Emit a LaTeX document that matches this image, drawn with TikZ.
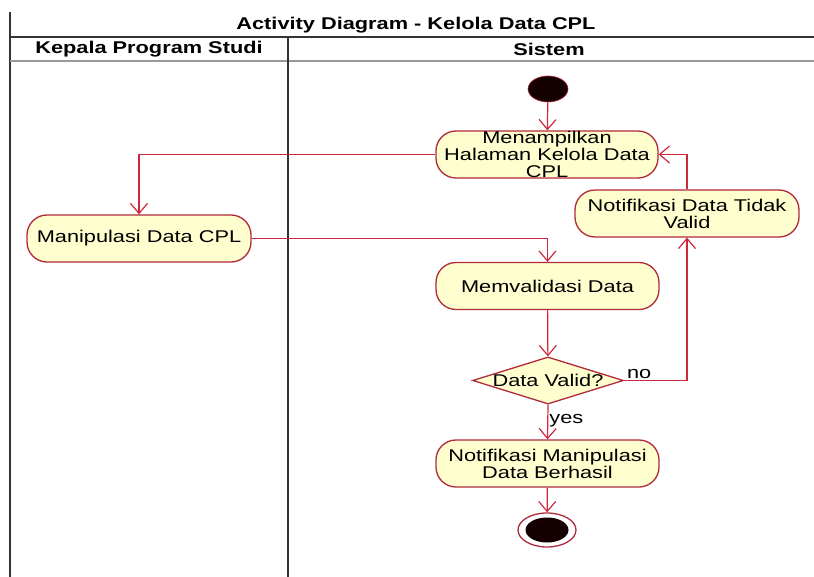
\documentclass[tikz,border=0pt]{standalone}
\usepackage{fontspec}
\setmainfont{Liberation Sans}[FakeStretch=1.28]
\usetikzlibrary{arrows.meta,shapes.geometric}
\definecolor{actfill}{HTML}{FEFECE}
\definecolor{actline}{HTML}{B02A3A}
\definecolor{flow}{RGB}{205,40,60}
\begin{document}
\begin{tikzpicture}[x=1pt,y=-1pt,
  font=\fontsize{17}{17}\selectfont,
  action/.style={draw=actline, fill=actfill, line width=1.3pt, rounded corners=20pt,
    align=center, inner sep=0pt, minimum height=47pt},
  decision/.style={draw=actline, fill=actfill, line width=1.3pt, diamond,
    shape aspect=3.2, inner sep=0pt, minimum width=150pt, minimum height=47pt},
  initial/.style={ellipse, fill=black!92!red, draw=actline, line width=0.6pt,
    minimum width=40pt, minimum height=26pt, inner sep=0pt},
  final/.style={ellipse, draw=actline, line width=1.3pt, fill=white,
    minimum width=58pt, minimum height=34pt, inner sep=0pt},
  flowline/.style={draw=flow, line width=1.2pt, -{Straight Barb[length=10pt,width=17pt]}},
  lane/.style={line width=2pt, black!80},
  heading/.style={font=\fontsize{17}{17}\selectfont\bfseries},
  guard/.style={font=\fontsize{17}{17}\selectfont, inner sep=1pt}
]
\useasboundingbox (0,0) rectangle (814,577);

% swimlane frame
\draw[lane] (10,12) -- (10,577);
\draw[line width=1.5pt, black!80] (10,37) -- (814,37);
\draw[line width=2pt, black!40] (10,61) -- (814,61);
\draw[lane] (288,37) -- (288,577);

\node[heading] (title) at (416,25) {Activity Diagram - Kelola Data CPL};
\node[heading] (laneA) at (149,49) {Kepala Program Studi};
\node[heading] (laneB) at (549,49) {Sistem};

% activities
\node[initial] (start) at (548,89) {};
\node[action, minimum width=222pt] (show) at (547,154.5) {Menampilkan\\Halaman Kelola Data\\CPL};
\node[action, minimum width=224pt] (invalid) at (687,213.5) {Notifikasi Data Tidak\\Valid};
\node[action, minimum width=224pt] (manip) at (139,238.5) {Manipulasi Data CPL};
\node[action, minimum width=223pt] (validate) at (547.5,286) {Memvalidasi Data};
\node[decision] (check) at (548,380.5) {Data Valid?};
\node[action, minimum width=223pt] (success) at (547.5,463.5) {Notifikasi Manipulasi\\Data Berhasil};
\node[final] (end) at (547,530) {};
\node[ellipse, fill=black!92!red, minimum width=43pt, minimum height=25pt, inner sep=0pt] (endcore) at (end) {};

% control flow
\draw[flowline] (start) -- (show);
\draw[flowline] (show.west) -| (manip.north);
\draw[flowline] (manip.east) -| (validate.north);
\draw[flowline] (validate) -- (check);
\draw[flowline] (check.east) -| node[guard, pos=0.12, above] {no} (invalid.south);
\draw[flowline] (invalid.north) |- (show.east);
\draw[flowline] (check.south) -- node[guard, right, pos=0.45] {yes} (success.north);
\draw[flowline] (success) -- (end);
\end{tikzpicture}
\end{document}
